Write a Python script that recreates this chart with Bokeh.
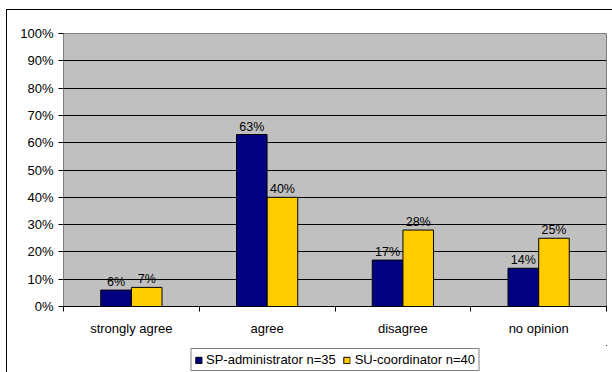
import numpy as np
from bokeh.plotting import figure
from bokeh.layouts import column
from bokeh.models import (ColumnDataSource, Range1d, FixedTicker, PrintfTickFormatter,
                          Legend, LegendItem, LinearAxis, InlineStyleSheet)
from bokeh.core.properties import value
from bokeh.transform import dodge
from bokeh.embed import file_html
from bokeh.resources import INLINE

categories = ["strongly agree", "agree", "disagree", "no opinion"]
series_names = ["SP-administrator n=35", "SU-coordinator n=40"]
sp_admin = [6, 63, 17, 14]
su_coord = [7, 40, 28, 25]
y_ticks = [0, 10, 20, 30, 40, 50, 60, 70, 80, 90, 100]
colors = ["#000080", "#FFCC00"]

FONT = "Liberation Sans"
n = len(categories)
pos = np.arange(n) + 0.5
src = ColumnDataSource(dict(
    pos=pos, sp=sp_admin, su=su_coord,
    sp_lab=[f"{v}%" for v in sp_admin], su_lab=[f"{v}%" for v in su_coord],
))

p = figure(width=612, height=345, output_backend="svg", toolbar_location=None,
           x_range=Range1d(0, n), y_range=Range1d(0, 100),
           min_border_left=63, min_border_right=6, min_border_top=33, min_border_bottom=39,
           background_fill_color="#C0C0C0", border_fill_alpha=0,
           x_axis_type=None)
p.outline_line_color = "#808080"
p.outline_line_width = 1

bw = 0.225
off = 0.113
p.vbar(x=dodge("pos", -off), top="sp", width=bw, source=src,
       fill_color=colors[0], line_color="black", line_width=1)
p.vbar(x=dodge("pos", off), top="su", width=bw, source=src,
       fill_color=colors[1], line_color="black", line_width=1)

for col, lab in ((-off, "sp_lab"), (off, "su_lab")):
    p.text(x=dodge("pos", col), y=("sp" if lab == "sp_lab" else "su"), text=lab, source=src,
           text_align="center", text_baseline="alphabetic", y_offset=-8,
           text_font_size="12.5px", text_font=value(FONT), text_color="black")

# x axis: labels at category centres, tick marks at category boundaries
xaxis = LinearAxis(ticker=FixedTicker(ticks=list(pos), minor_ticks=list(range(n + 1))))
xaxis.major_label_overrides = {float(v): c for v, c in zip(pos, categories)}
xaxis.major_tick_line_color = None
xaxis.major_tick_out = 0
xaxis.major_tick_in = 0
xaxis.minor_tick_out = 5
xaxis.minor_tick_in = 0
xaxis.minor_tick_line_color = "black"
xaxis.axis_line_color = "black"
xaxis.major_label_standoff = 9
xaxis.major_label_text_font = FONT
xaxis.major_label_text_font_size = "13px"
xaxis.major_label_text_color = "black"
p.add_layout(xaxis, "below")

yaxis = p.yaxis[0]
yaxis.ticker = FixedTicker(ticks=y_ticks)
yaxis.formatter = PrintfTickFormatter(format="%d%%")
yaxis.major_tick_out = 5
yaxis.major_tick_in = 0
yaxis.minor_tick_line_color = None
yaxis.major_tick_line_color = "black"
yaxis.axis_line_color = "#808080"
yaxis.major_label_standoff = 5
yaxis.major_label_text_font = FONT
yaxis.major_label_text_font_size = "13px"
yaxis.major_label_text_color = "black"

p.ygrid.ticker = FixedTicker(ticks=y_ticks[1:-1])
p.ygrid.grid_line_color = "black"
p.ygrid.grid_line_width = 1
p.xgrid.visible = False

# legend strip under the chart (its key renderers use the same data, kept far out of view)
lg = figure(width=612, height=27, output_backend="svg", toolbar_location=None,
            x_range=Range1d(-100, -99), y_range=Range1d(-100, -99),
            min_border=0, min_border_left=54, x_axis_type=None, y_axis_type=None,
            background_fill_alpha=0, border_fill_alpha=0)
lg.outline_line_color = None
lg.xgrid.visible = False
lg.ygrid.visible = False
k1 = lg.vbar(x=dodge("pos", -off), top="sp", width=bw, source=src,
             fill_color=colors[0], line_color="black")
k2 = lg.vbar(x=dodge("pos", off), top="su", width=bw, source=src,
             fill_color=colors[1], line_color="black")
legend = Legend(items=[LegendItem(label=series_names[0], renderers=[k1], index=0),
                       LegendItem(label=series_names[1], renderers=[k2], index=0)],
                orientation="horizontal", location="bottom_center",
                glyph_width=8, glyph_height=8, label_standoff=4, spacing=7,
                padding=3, margin=1, label_height=13, label_text_font=FONT,
                label_text_font_size="13px", label_text_color="black",
                border_line_color="black", border_line_width=1,
                background_fill_color="white", background_fill_alpha=1)
lg.add_layout(legend, "center")

sheet = InlineStyleSheet(css=(
    ":host { position: relative; background: #fff; }"
    ":host::after { content: ''; position: absolute; left: 6px; top: 9px; right: 0; bottom: 0;"
    " border-left: 1px solid #000; border-top: 1px solid #000; pointer-events: none; }"
))
layout = column(p, lg, spacing=0, stylesheets=[sheet])

open("out.html", "w").write(file_html(layout, INLINE))
